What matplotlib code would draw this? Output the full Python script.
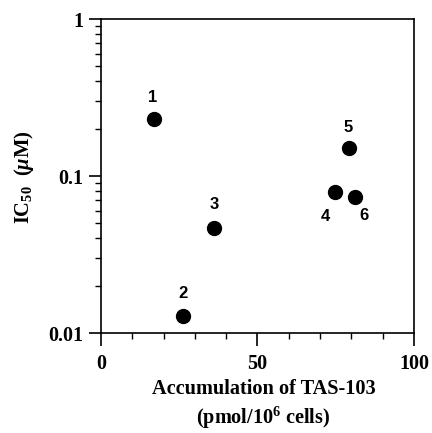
import matplotlib
matplotlib.use("Agg")
import matplotlib.pyplot as plt
from matplotlib.ticker import MultipleLocator, LogLocator, NullFormatter, FixedLocator, FixedFormatter

plt.rcParams['mathtext.fontset'] = 'custom'
plt.rcParams['mathtext.rm'] = 'Liberation Serif:bold'
plt.rcParams['mathtext.bf'] = 'Liberation Serif:bold'
plt.rcParams['mathtext.it'] = 'Liberation Serif:bold:italic'

labels = ["1", "2", "3", "4", "5", "6"]
accumulation = [16.9, 26.1, 36.2, 74.7, 79.1, 81.2]
ic50 = [0.230, 0.0128, 0.0467, 0.0787, 0.150, 0.0738]
label_offsets = [(-1, 22), (0, 23), (0, 23), (-9, -24), (0, 21), (9, -19)]

fig = plt.figure(figsize=(4.32, 4.33), dpi=100)
ax = fig.add_axes([0.2338, 0.2309, 0.7245, 0.7252])

ax.plot(accumulation, ic50, 'o', color='black', markersize=10, linestyle='none')
for lab, x, y, off in zip(labels, accumulation, ic50, label_offsets):
    ax.annotate(lab, (x, y), xytext=off, textcoords='offset pixels',
                ha='center', va='center', fontsize=12, fontweight='bold',
                family='Liberation Sans')

ax.set_xlim(0, 100)
ax.set_yscale('log')
ax.set_ylim(0.01, 1)

ax.xaxis.set_major_locator(FixedLocator([0, 50, 100]))
ax.xaxis.set_major_formatter(FixedFormatter(["0", "50", "100"]))
ax.xaxis.set_minor_locator(MultipleLocator(10))
ax.yaxis.set_major_locator(FixedLocator([0.01, 0.1, 1]))
ax.yaxis.set_major_formatter(FixedFormatter(["0.01", "0.1", "1"]))
ax.yaxis.set_minor_locator(LogLocator(base=10, subs=range(2, 10)))
ax.yaxis.set_minor_formatter(NullFormatter())

ax.tick_params(which='major', direction='out', length=9, width=1.2, pad=4,
               labelsize=14.5)
ax.tick_params(axis='x', which='major', pad=6)
ax.tick_params(which='minor', direction='out', length=4.5, width=1.0)
for lab in ax.get_xticklabels() + ax.get_yticklabels():
    lab.set_family('Liberation Serif')
    lab.set_fontweight('bold')
for sp in ax.spines.values():
    sp.set_linewidth(1.2)

fig.text(0.610, 0.089, "Accumulation of TAS-103", ha='center', va='baseline',
         fontsize=14.6, fontweight='bold', family='Liberation Serif')
fig.text(0.610, 0.021, r"(pmol/10$^{6}$ cells)", ha='center', va='baseline',
         fontsize=14.6, fontweight='bold', family='Liberation Serif')
fig.text(0.056, 0.59, r"IC$_{50}$  ($\mu$M)", ha='center', va='center',
         rotation=90, fontsize=14.8, fontweight='bold', family='Liberation Serif')

fig.savefig("out.png", dpi=100)
